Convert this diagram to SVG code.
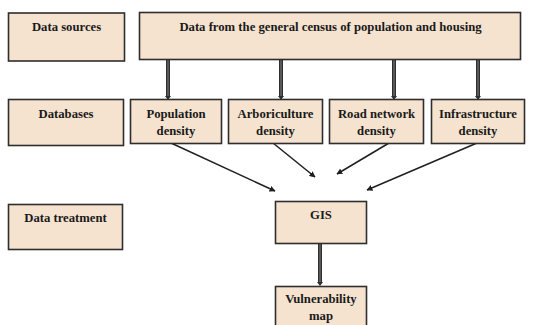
<svg xmlns="http://www.w3.org/2000/svg" width="543" height="325" viewBox="0 0 543 325">
<style>
.box{fill:#f5e3cf;stroke:#2e2e2e;stroke-width:1.6}
.t{font-family:"Liberation Serif","Times New Roman",serif;font-weight:bold;font-size:12.7px;fill:#1a1a1a;text-anchor:middle}
.dbl{stroke:#2e2e2e;stroke-width:4}
.dblin{stroke:#9a9a9a;stroke-width:0.8}
.diag{stroke:#1f1f1f;stroke-width:1.5;fill:none;marker-end:url(#ah)}
</style>
<defs>
<marker id="ah" viewBox="0 0 10 10" refX="9" refY="5" markerWidth="6" markerHeight="6" markerUnits="userSpaceOnUse" orient="auto"><path d="M0,0L10,5L0,10z" fill="#1f1f1f"/></marker>
</defs>
<rect width="543" height="325" fill="#ffffff"/>
<g id="connectors">
<g id="c1"><line class="dbl" x1="168" y1="59" x2="168" y2="97"/><line class="dblin" x1="168" y1="60" x2="168" y2="96"/><path d="M165,96L171,96L168,100z" fill="#2e2e2e"/></g>
<g id="c2"><line class="dbl" x1="281" y1="59" x2="281" y2="97"/><line class="dblin" x1="281" y1="60" x2="281" y2="96"/><path d="M278,96L284,96L281,100z" fill="#2e2e2e"/></g>
<g id="c3"><line class="dbl" x1="394" y1="59" x2="394" y2="97"/><line class="dblin" x1="394" y1="60" x2="394" y2="96"/><path d="M391,96L397,96L394,100z" fill="#2e2e2e"/></g>
<g id="c4"><line class="dbl" x1="478" y1="59" x2="478" y2="97"/><line class="dblin" x1="478" y1="60" x2="478" y2="96"/><path d="M475,96L481,96L478,100z" fill="#2e2e2e"/></g>
<g id="c5"><line class="dbl" x1="320" y1="243" x2="320" y2="283"/><line class="dblin" x1="320" y1="244" x2="320" y2="282"/><path d="M317,282L323,282L320,286z" fill="#2e2e2e"/></g>
<line class="diag" x1="171" y1="143" x2="275" y2="191"/>
<line class="diag" x1="273" y1="143" x2="315" y2="177"/>
<line class="diag" x1="389" y1="143" x2="337" y2="174"/>
<line class="diag" x1="477" y1="143" x2="367" y2="190"/>
</g>
<g id="data-sources"><rect class="box" x="8.5" y="13" width="116" height="48"/><text class="t" x="66.5" y="31">Data sources</text></g>
<g id="census"><rect class="box" x="139.5" y="12.5" width="381" height="47"/><text class="t" x="330.5" y="31">Data from the general census of population and housing</text></g>
<g id="databases"><rect class="box" x="8.5" y="99.5" width="115" height="46"/><text class="t" x="66" y="118">Databases</text></g>
<g id="population"><rect class="box" x="130.5" y="99.5" width="91" height="44"/><text class="t" x="176" y="118">Population</text><text class="t" x="176" y="135">density</text></g>
<g id="arboriculture"><rect class="box" x="228.5" y="99.5" width="94" height="44"/><text class="t" x="275.5" y="118">Arboriculture</text><text class="t" x="275.5" y="135">density</text></g>
<g id="road"><rect class="box" x="329.5" y="99.5" width="94" height="44"/><text class="t" x="376.5" y="118">Road network</text><text class="t" x="376.5" y="135">density</text></g>
<g id="infrastructure"><rect class="box" x="431.5" y="99.5" width="93" height="44"/><text class="t" x="478" y="118">Infrastructure</text><text class="t" x="478" y="135">density</text></g>
<g id="data-treatment"><rect class="box" x="8.5" y="204.5" width="114" height="45"/><text class="t" x="65.5" y="222">Data treatment</text></g>
<g id="gis"><rect class="box" x="275.5" y="201.5" width="91" height="42"/><text class="t" x="321" y="219">GIS</text></g>
<g id="vulnerability"><rect class="box" x="275.5" y="286.5" width="91" height="50"/><text class="t" x="321" y="303">Vulnerability</text><text class="t" x="321" y="320">map</text></g>
</svg>
